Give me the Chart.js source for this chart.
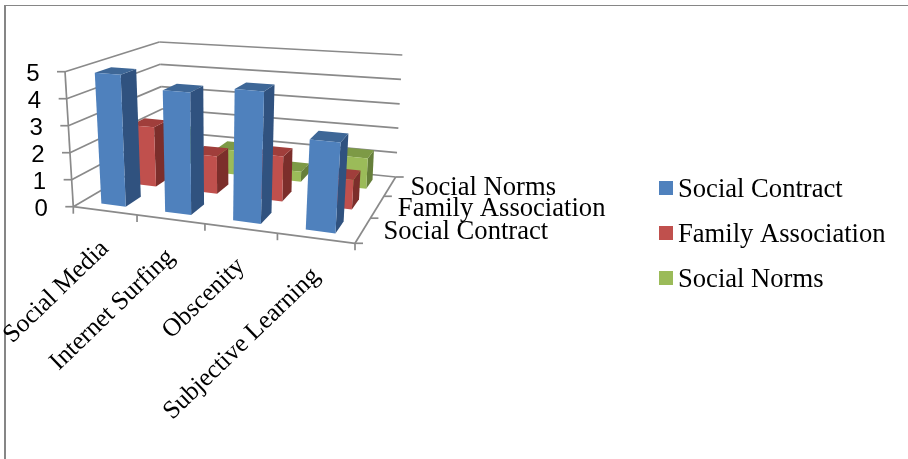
<!DOCTYPE html>
<html>
<head>
<meta charset="utf-8">
<style>
  html, body { margin: 0; padding: 0; background: #fff; }
  canvas { display: block; }
</style>
<script src="https://cdn.jsdelivr.net/npm/chart.js@4/dist/chart.umd.min.js"></script>
</head>
<body>
<canvas id="chart" width="908" height="459"></canvas>
<script>
// Chart content
const categories = ['Social Media', 'Internet Surfing', 'Obscenity', 'Subjective Learning'];
const seriesNames = ['Social Contract', 'Family Association', 'Social Norms'];
const socialContract = [4.9, 4.45, 4.7, 3.15];
const familyAssociation = [2.35, 1.45, 1.7, 1.1];
const socialNorms = [1.5, 1.0, 0.4, 1.2];
const yTicks = [0, 1, 2, 3, 4, 5];

// Face colours per series: front, top, right side
const frontColors = ['#4f81bd', '#c0504d', '#9bbb59'];
const topColors = ['#3e6797', '#a03e3b', '#7d9a46'];
const sideColors = ['#30527f', '#7c2e2b', '#667f3a'];

const axisGray = '#8a8a8a';
const textFont = '"Liberation Serif"';

// Corners of the 3D plot box on the canvas
const box = {
  floorFrontLeft: [73.3, 206.7], floorFrontRight: [355, 243.3],
  floorBackLeft: [164, 153.5], floorBackRight: [395.7, 177],
  topFrontLeft: [65, 71.7], topFrontRight: [365, 95],
  topBackLeft: [159.3, 42], topBackRight: [402.3, 55]
};
const perspectiveU = 1.14;   // foreshortening along the categories
const perspectiveW = 0.82;   // foreshortening along the depth
const barHalfWidth = 0.195;  // in category units
const barHalfDepth = 0.24;   // in series units

const mix = (a, b, t) => [a[0] + (b[0] - a[0]) * t, a[1] + (b[1] - a[1]) * t];
const warp = (t, k) => t / (t + k * (1 - t));

// Maps (category, value, series) through the chart's scales onto the canvas
function project(chart, cat, val, depth) {
  const { x, y, z } = chart.scales;
  const u = warp((x.getPixelForValue(cat) - x.left) / x.width, perspectiveU);
  const v = (y.bottom - y.getPixelForValue(val)) / y.height;
  const w = warp((z.getPixelForValue(depth) - z.top) / z.height, perspectiveW);
  const floor = mix(mix(box.floorFrontLeft, box.floorFrontRight, u),
                    mix(box.floorBackLeft, box.floorBackRight, u), w);
  const roof = mix(mix(box.topFrontLeft, box.topFrontRight, u),
                   mix(box.topBackLeft, box.topBackRight, u), w);
  return mix(floor, roof, v);
}

function polygon(ctx, pts, fill) {
  ctx.beginPath();
  pts.forEach((p, i) => i ? ctx.lineTo(p[0], p[1]) : ctx.moveTo(p[0], p[1]));
  ctx.closePath();
  ctx.fillStyle = fill;
  ctx.fill();
}

function line(ctx, a, b) {
  ctx.beginPath();
  ctx.moveTo(a[0], a[1]);
  ctx.lineTo(b[0], b[1]);
  ctx.stroke();
}

function drawFrame(ctx, chart) {
  ctx.strokeStyle = '#868686';
  ctx.lineWidth = 1;
  line(ctx, [4, 5.5], [chart.width, 5.5]);
  ctx.lineWidth = 2;
  line(ctx, [5, 5], [5, chart.height]);
}

function drawAxes(ctx, chart) {
  const nCat = categories.length, nSer = seriesNames.length;
  const uMin = -0.5, uMax = nCat - 0.5, wMin = -0.5, wMax = nSer - 0.5;
  ctx.strokeStyle = axisGray;
  ctx.lineWidth = 1.7;
  ctx.lineCap = 'butt';

  // Gridlines across the left and back walls
  yTicks.forEach(t => {
    const corner = project(chart, uMin, t, wMax);
    line(ctx, project(chart, uMin, t, wMin), corner);
    line(ctx, corner, project(chart, uMax, t, wMax));
    const f = project(chart, uMin, t, wMin);
    line(ctx, f, [f[0] - 8, f[1]]);
  });
  line(ctx, project(chart, uMin, 0, wMin), project(chart, uMin, 5, wMin));

  // Floor edges and their ticks
  line(ctx, project(chart, uMin, 0, wMin), project(chart, uMax, 0, wMin));
  line(ctx, project(chart, uMax, 0, wMin), project(chart, uMax, 0, wMax));
  for (let i = 0; i <= nCat; i++) {
    const p = project(chart, uMin + i, 0, wMin);
    line(ctx, p, [p[0], p[1] + 7]);
  }
  for (let s = 0; s <= nSer; s++) {
    const p = project(chart, uMax, 0, wMin + s);
    line(ctx, p, [p[0] + 8, p[1]]);
  }
}

function drawBars(ctx, chart) {
  // Back row first, left to right, so nearer bars cover farther ones
  for (let s = seriesNames.length - 1; s >= 0; s--) {
    const values = chart.data.datasets[s].data;
    values.forEach((val, i) => {
      const l = i - barHalfWidth, r = i + barHalfWidth;
      const f = s - barHalfDepth, b = s + barHalfDepth;
      polygon(ctx, [project(chart, r, 0, f), project(chart, r, 0, b),
                    project(chart, r, val, b), project(chart, r, val, f)], sideColors[s]);
      polygon(ctx, [project(chart, l, val, f), project(chart, r, val, f),
                    project(chart, r, val, b), project(chart, l, val, b)], topColors[s]);
      polygon(ctx, [project(chart, l, 0, f), project(chart, r, 0, f),
                    project(chart, r, val, f), project(chart, l, val, f)], frontColors[s]);
    });
  }
}

function drawLabels(ctx, chart) {
  ctx.fillStyle = '#000';
  ctx.textBaseline = 'alphabetic';

  // Value axis
  ctx.font = '24px "Liberation Sans"';
  ctx.textAlign = 'right';
  yTicks.forEach(t => {
    const p = project(chart, -0.5, t, -0.5);
    ctx.fillText(String(t), p[0] - 25.5, p[1] + 9);
  });

  // Category axis, slanted
  ctx.font = '25.5px ' + textFont;
  categories.forEach((name, i) => {
    const p = project(chart, i, 0, -0.5);
    ctx.save();
    ctx.translate(p[0] + 5, p[1] + 39);
    ctx.rotate(-44 * Math.PI / 180);
    ctx.textAlign = 'right';
    ctx.fillText(name, 0, 0);
    ctx.restore();
  });

  // Series axis
  ctx.font = '26.6px ' + textFont;
  ctx.textAlign = 'left';
  seriesNames.forEach((name, s) => {
    const p = project(chart, categories.length - 0.5, 0, s);
    ctx.fillText(name, p[0] + 20.5, p[1] + 9);
  });

  // Legend
  chart.data.datasets.forEach((ds, s) => {
    const rowY = 181 + s * 45;
    ctx.fillStyle = ds.backgroundColor;
    ctx.fillRect(659, rowY, 14, 14);
    ctx.fillStyle = '#000';
    ctx.fillText(ds.label, 678, rowY + 16);
  });
}

const scene3d = {
  id: 'scene3d',
  // The cuboids below replace the flat default bars
  beforeDatasetDraw() { return false; },
  afterDatasetsDraw(chart) {
    const ctx = chart.ctx;
    ctx.save();
    drawFrame(ctx, chart);
    drawAxes(ctx, chart);
    drawBars(ctx, chart);
    drawLabels(ctx, chart);
    ctx.restore();
  }
};

new Chart(document.getElementById('chart'), {
  type: 'bar',
  data: {
    labels: categories,
    datasets: [
      { label: seriesNames[0], data: socialContract, backgroundColor: frontColors[0] },
      { label: seriesNames[1], data: familyAssociation, backgroundColor: frontColors[1] },
      { label: seriesNames[2], data: socialNorms, backgroundColor: frontColors[2] }
    ]
  },
  options: {
    responsive: false,
    animation: false,
    layout: { padding: 0 },
    plugins: { legend: { display: false }, title: { display: false }, tooltip: { enabled: false } },
    scales: {
      x: { display: false, offset: true },
      y: { display: false, min: 0, max: 5, ticks: { stepSize: 1 } },
      z: { type: 'category', axis: 'y', labels: seriesNames, display: false, offset: true }
    }
  },
  plugins: [scene3d]
});
</script>
</body>
</html>
